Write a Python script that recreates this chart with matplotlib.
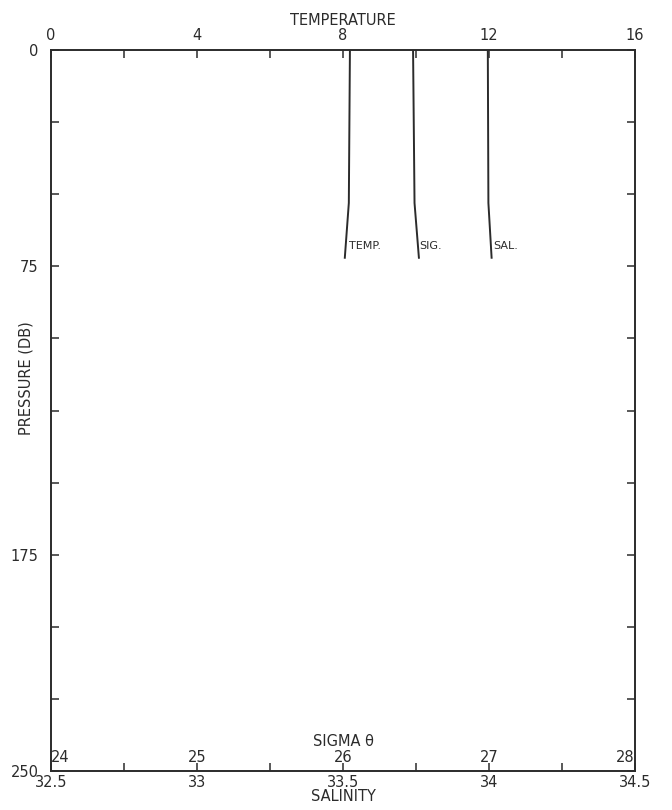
import matplotlib
matplotlib.use("Agg")
import matplotlib.pyplot as plt
import numpy as np

# profile readings (pressure in dbar)
pressure = [0, 53, 72]
temperature = [8.19, 8.16, 8.05]
sigma_theta = [26.48, 26.49, 26.52]
salinity = [33.996, 33.998, 34.009]

temp_ticks = [0, 2, 4, 6, 8, 10, 12, 14, 16]
temp_labels = ['0', '', '4', '', '8', '', '12', '', '16']
sal_ticks = [32.5, 32.75, 33, 33.25, 33.5, 33.75, 34, 34.25, 34.5]
sal_labels = ['32.5', '', '33', '', '33.5', '', '34', '', '34.5']
sigma_ticks = [24, 25, 26, 27, 28]
pres_ticks = [0, 25, 50, 75, 100, 125, 150, 175, 200, 225, 250]
pres_labels = ['0', '', '', '75', '', '', '', '175', '', '', '250']

ink = '#2b2b2b'
plt.rcParams['font.family'] = 'DejaVu Sans'

fig = plt.figure(figsize=(6.72, 8.10), dpi=100)
ax = fig.add_axes([0.0759, 0.0481, 0.869, 0.890])

# salinity on the bottom axis
ax.plot(salinity, pressure, color=ink, lw=1.4)
ax.set_xlim(32.5, 34.5)
ax.set_ylim(250, 0)
ax.set_xticks(sal_ticks)
ax.set_xticklabels(sal_labels)
ax.set_yticks(pres_ticks)
ax.set_yticklabels(pres_labels)
ax.tick_params(axis='both', direction='in', length=6, width=1.1, colors=ink,
               labelsize=10.5, right=True, top=False)
ax.tick_params(axis='x', pad=3)
ax.tick_params(axis='y', pad=9)
for s in ax.spines.values():
    s.set_color(ink)
    s.set_linewidth(1.4)
ax.set_xlabel('SALINITY', fontsize=10.5, color=ink, labelpad=-1)
ax.set_ylabel('PRESSURE (DB)', fontsize=10.5, color=ink)
ax.yaxis.set_label_coords(-0.03, 0.545)

# temperature on the top axis
ax_t = ax.twiny()
ax_t.plot(temperature, pressure, color=ink, lw=1.4)
ax_t.set_xlim(0, 16)
ax_t.set_xticks(temp_ticks)
ax_t.set_xticklabels(temp_labels)
ax_t.tick_params(axis='x', direction='in', length=6, width=1.1, colors=ink,
                 labelsize=10.5, pad=5, bottom=False)
ax_t.tick_params(axis='y', left=False, right=False)
ax_t.set_xlabel('TEMPERATURE', fontsize=10.5, color=ink, labelpad=2)
for s in ax_t.spines.values():
    s.set_visible(False)

# sigma theta, labelled just inside the bottom axis
ax_s = ax.twiny()
ax_s.plot(sigma_theta, pressure, color=ink, lw=1.4)
ax_s.set_xlim(24, 28)
ax_s.set_xticks(sigma_ticks)
ax_s.set_xticklabels([str(v) for v in sigma_ticks])
ax_s.xaxis.set_ticks_position('bottom')
ax_s.tick_params(axis='x', length=0, pad=-15, colors=ink, labelsize=10.5,
                 labeltop=False, labelbottom=True, top=False)
ax_s.tick_params(axis='y', left=False, right=False)
lbls = ax_s.get_xticklabels()
lbls[0].set_horizontalalignment('left')
lbls[-1].set_horizontalalignment('right')
for s in ax_s.spines.values():
    s.set_visible(False)
ax.text(0.5, 0.03, 'SIGMA θ', transform=ax.transAxes, ha='center',
        va='bottom', fontsize=10.5, color=ink)

# curve names at the foot of each profile
ax_t.annotate('TEMP.', xy=(temperature[-1], 68), xytext=(3, 0),
              textcoords='offset points', fontsize=8, color=ink, va='center')
ax_s.annotate('SIG.', xy=(sigma_theta[-1], 68), xytext=(0.5, 0),
              textcoords='offset points', fontsize=8, color=ink, va='center')
ax.annotate('SAL.', xy=(salinity[-1], 68), xytext=(1.5, 0),
            textcoords='offset points', fontsize=8, color=ink, va='center')

fig.savefig('out.png', dpi=100, facecolor='white')
